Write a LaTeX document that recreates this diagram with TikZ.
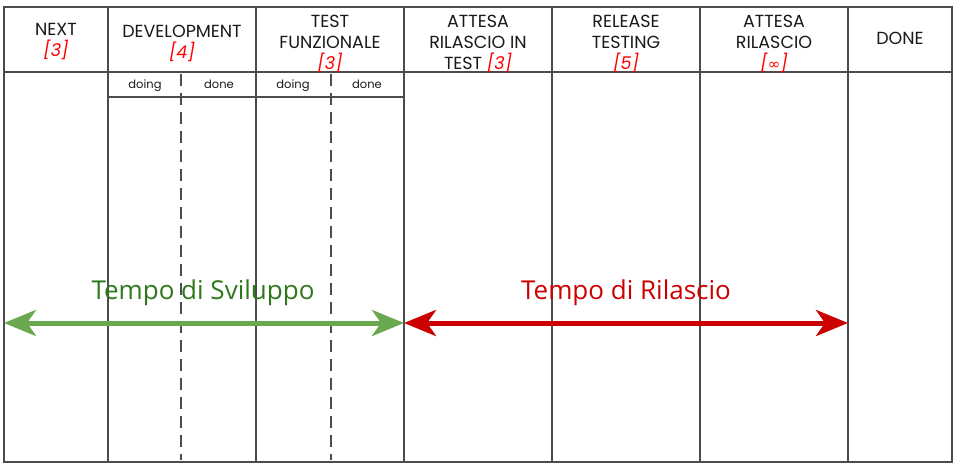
\documentclass[tikz,border=0pt]{standalone}
\usepackage{fontspec}
\setmainfont{Open Sans}
\newfontfamily\boardfont{Poppins}
\newfontfamily\symfont{DejaVu Sans}
\usetikzlibrary{arrows.meta}
\definecolor{devgreen}{RGB}{106,168,79}
\definecolor{devtext}{RGB}{46,120,28}
\definecolor{relred}{RGB}{204,0,0}
\definecolor{wipred}{RGB}{255,0,0}

\begin{document}
\begin{tikzpicture}[x=1pt,y=-1pt,
  grid/.style={draw=black!70,line width=2.6pt},
  subline/.style={draw=black!70,line width=2pt,dash pattern=on 12pt off 7pt},
  head/.style={align=center,font=\boardfont\fontsize{17.5}{21}\selectfont,text=black!90},
  sub/.style={font=\boardfont\fontsize{11.5}{13}\selectfont,text=black!90,text height=8pt,text depth=2pt},
  span/.style={line width=5pt,{Stealth[length=32pt,width=26pt,inset=9pt]}-{Stealth[length=32pt,width=26pt,inset=9pt]}},
  title/.style={font=\fontsize{26}{30}\selectfont}]
  \useasboundingbox (0,0) rectangle (960,468);
  % board
  \draw[grid] (4,7) rectangle (952,462);
  \draw[grid] (4,72) -- (952,72);
  \foreach \xx in {108,256,404,552,700,848}
    \draw[grid] (\xx,7) -- (\xx,462);
  \draw[grid] (108,97) -- (404,97);
  \foreach \xx in {181,331}
    \draw[subline] (\xx,74) -- (\xx,460);
  % headers
  \node[head] (next) at (56,42) {NEXT\\{\color{wipred}\itshape[3]}};
  \node[head] (dev) at (182,43) {DEVELOPMENT\\{\color{wipred}\itshape[4]}};
  \node[head] (test) at (330,44) {TEST\\FUNZIONALE\\{\color{wipred}\itshape[3]}};
  \node[head] (wtest) at (478,44) {ATTESA\\RILASCIO IN\\TEST {\color{wipred}\itshape[3]}};
  \node[head] (rel) at (626,44) {RELEASE\\TESTING\\{\color{wipred}\itshape[5]}};
  \node[head] (wrel) at (774,44) {ATTESA\\RILASCIO\\{\color{wipred}\itshape[{\symfont\fontsize{15}{16}\selectfont ∞}]}};
  \node[head] (done) at (900,38) {DONE};
  \node[sub] (devdoing) at (145,86) {doing};
  \node[sub] (devdone) at (219,86) {done};
  \node[sub] (testdoing) at (293,86) {doing};
  \node[sub] (testdone) at (367,86) {done};
  % lead times
  \coordinate (start) at (4,323);
  \coordinate (mid) at (404,323);
  \coordinate (finish) at (848,323);
  \draw[span,draw=devgreen,fill=devgreen] (start) -- (mid);
  \draw[span,draw=relred,fill=relred] (mid) -- (finish);
  \node[title,text=devtext] (dev time) at (203,293) {Tempo di Sviluppo};
  \node[title,text=relred] (rel time) at (626,293) {Tempo di Rilascio};
\end{tikzpicture}
\end{document}
